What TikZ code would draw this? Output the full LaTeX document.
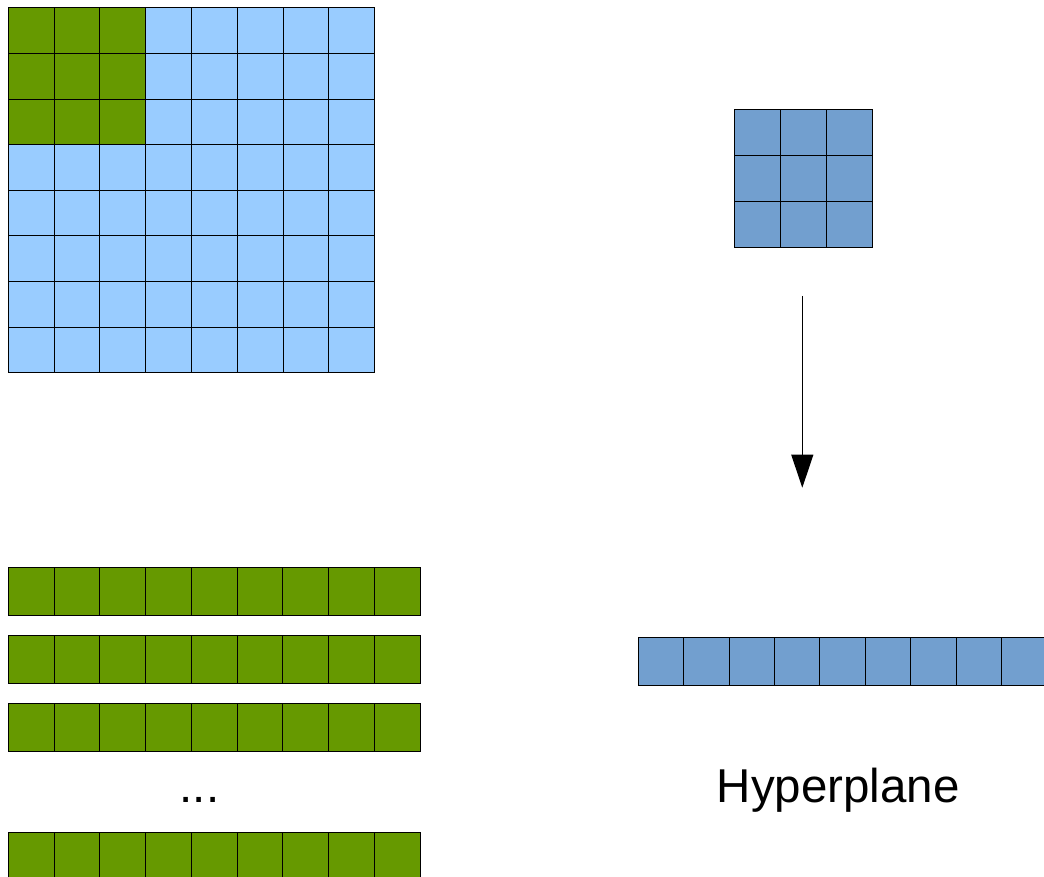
\documentclass[tikz,border=0pt]{standalone}
\usepackage{fontspec}
\setmainfont{Liberation Sans}
\usetikzlibrary{arrows.meta}
\definecolor{cgreen}{HTML}{669900}
\definecolor{clight}{HTML}{99CCFF}
\definecolor{cblue}{HTML}{729FCF}
\tikzset{
  cell/.style={draw=black, line width=1pt},
  label/.style={font=\fontsize{47.5}{57}\selectfont, inner sep=0pt},
  flow/.style={line width=1pt, -{Triangle[width=22pt,length=33pt]}}
}
\begin{document}
\begin{tikzpicture}[x=1pt,y=1pt]
\useasboundingbox (0,0) rectangle (1044,877);
\clip (0,0) rectangle (1044,877);
% big 8x8 grid
\foreach \i in {0,...,7}{
  \foreach \j in {0,...,7}{
    \pgfmathsetmacro{\isg}{(\i<3 && \j<3) ? 1 : 0}
    \ifdim\isg pt>0.5pt
      \filldraw[cell, fill=cgreen] (8.3+45.8*\i, 869-45.6*\j) rectangle ++(45.8,-45.6);
    \else
      \filldraw[cell, fill=clight] (8.3+45.8*\i, 869-45.6*\j) rectangle ++(45.8,-45.6);
    \fi
  }
}
% small 3x3 kernel
\foreach \i in {0,1,2}{
  \foreach \j in {0,1,2}{
    \filldraw[cell, fill=cblue] (734.3+46.2*\i, 767.7-46.2*\j) rectangle ++(46.2,-46.2);
  }
}
% green rows
\foreach \t in {567.3,635.3,703.7,832.3}{
  \foreach \i in {0,...,8}{
    \filldraw[cell, fill=cgreen] (8.3+45.75*\i, 877-\t) rectangle ++(45.75,-48.3);
  }
}
% blue row
\foreach \i in {0,...,8}{
  \filldraw[cell, fill=cblue] (638.3+45.4*\i, 877-637.3) rectangle ++(45.4,-48);
}
% arrow
\coordinate (astart) at (802.3,581);
\coordinate (aend) at (802.3,389.3);
\draw[flow] (astart) -- (aend);
% labels
\node[label, anchor=base] (dots) at (199.5,74.3) {...};
\node[label, anchor=base] (hyper) at (838.3,74.3) {Hyperplane};
\end{tikzpicture}
\end{document}
